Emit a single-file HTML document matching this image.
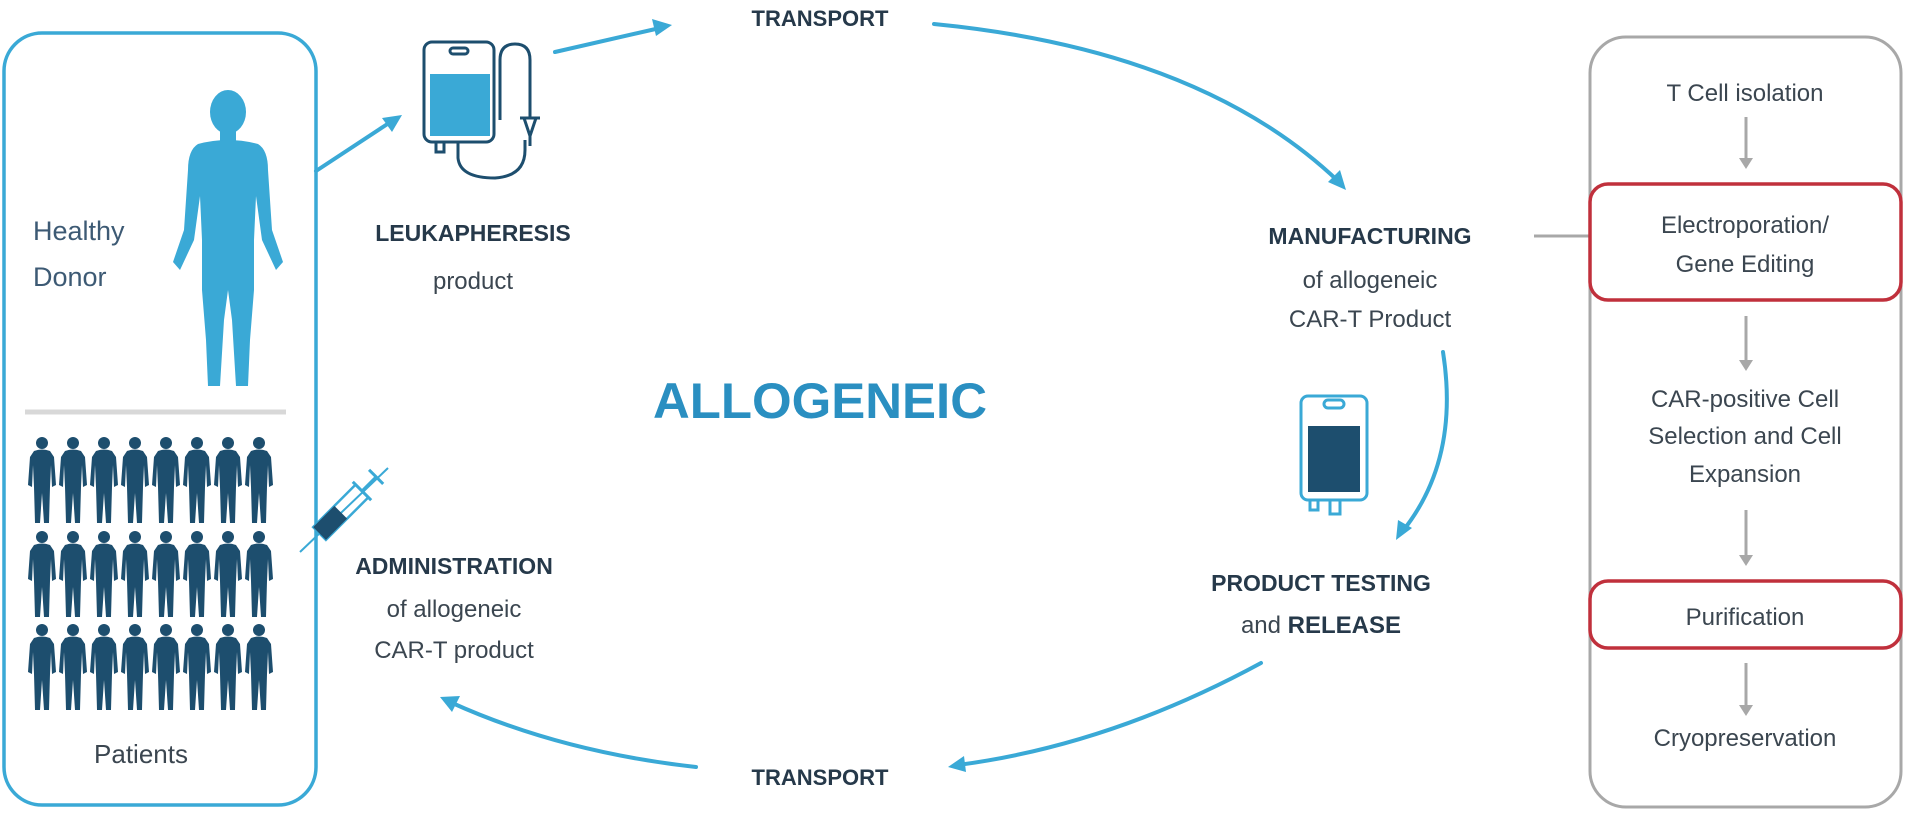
<!DOCTYPE html>
<html><head><meta charset="utf-8"><style>
html,body{margin:0;padding:0;background:#fff;}
svg{display:block;}
text{font-family:"Liberation Sans",sans-serif;}
</style></head><body>
<svg width="1907" height="813" viewBox="0 0 1907 813" xmlns="http://www.w3.org/2000/svg">
<defs>
<marker id="ah" markerWidth="10" markerHeight="10" refX="6" refY="5" orient="auto" markerUnits="userSpaceOnUse" viewBox="0 0 10 10">
</marker>
<g id="pat">
<circle cx="15" cy="8" r="6"/>
<path d="M7 16 Q15 13 23 16 L27 22 L29 50 L25 52 L24 30 L23 52 L22 88 L17 88 L15 58 L13 88 L8 88 L7 52 L6 30 L5 52 L1 50 L3 22 Z"/>
</g>
</defs>

<!-- left box -->
<rect x="4" y="33" width="312" height="772" rx="38" fill="none" stroke="#3aa9d6" stroke-width="3.5"/>
<text x="33" y="240" font-size="27" fill="#3d5a74">Healthy</text>
<text x="33" y="286" font-size="27" fill="#3d5a74">Donor</text>
<!-- donor figure -->
<g fill="#3aa9d6">
<ellipse cx="228" cy="112" rx="18" ry="22"/>
<rect x="220" y="128" width="16" height="16"/>
<path d="M198 144 Q228 136 258 144 Q268 150 268 170 L272 230 L283 262 L276 270 L262 240 L256 196 L254 240 L254 290 L250 340 L248 386 L236 386 L232 320 L228 290 L224 320 L220 386 L208 386 L206 340 L202 290 L202 240 L200 196 L194 240 L180 270 L173 262 L184 230 L188 170 Q188 150 198 144 Z"/>
</g>
<line x1="25" y1="412" x2="286" y2="412" stroke="#d8d8d8" stroke-width="5"/>
<!-- patients -->
<g fill="#1d4e6e">
<use href="#pat" x="27" y="435"/><use href="#pat" x="58" y="435"/><use href="#pat" x="89" y="435"/><use href="#pat" x="120" y="435"/><use href="#pat" x="151" y="435"/><use href="#pat" x="182" y="435"/><use href="#pat" x="213" y="435"/><use href="#pat" x="244" y="435"/>
<use href="#pat" x="27" y="529"/><use href="#pat" x="58" y="529"/><use href="#pat" x="89" y="529"/><use href="#pat" x="120" y="529"/><use href="#pat" x="151" y="529"/><use href="#pat" x="182" y="529"/><use href="#pat" x="213" y="529"/><use href="#pat" x="244" y="529"/>
<use href="#pat" x="27" y="622"/><use href="#pat" x="58" y="622"/><use href="#pat" x="89" y="622"/><use href="#pat" x="120" y="622"/><use href="#pat" x="151" y="622"/><use href="#pat" x="182" y="622"/><use href="#pat" x="213" y="622"/><use href="#pat" x="244" y="622"/>
</g>
<text x="141" y="763" font-size="26" fill="#3b4650" text-anchor="middle">Patients</text>

<!-- leukapheresis bag -->
<g fill="none" stroke="#1d4e6e" stroke-width="3">
<rect x="424" y="42" width="70" height="100" rx="8"/>
<rect x="450" y="48" width="18" height="6" rx="3"/>
<path d="M500 120 L500 60 Q500 44 515 44 Q530 44 530 60 L530 118"/>
<path d="M520 118 L540 118 M524 118 L530 136 L536 118 M530 136 L530 146"/>
<path d="M458 142 L458 158 Q460 178 495 178 Q525 176 525 150 L525 140"/>
<rect x="436" y="142" width="8" height="10"/>
</g>
<rect x="430" y="74" width="60" height="62" fill="#3aa9d6"/>
<!-- arrows -->
<g stroke="#3aa9d6" stroke-width="4" fill="none" stroke-linecap="round">
<line x1="316" y1="171" x2="392" y2="121"/>
<line x1="555" y1="52" x2="660" y2="28"/>
<path d="M934 24 Q1200 50 1338 181"/>
<path d="M1443 352 Q1460 460 1402 532"/>
<path d="M1261 663 Q1110 745 958 765"/>
<path d="M696 767 Q560 752 450 702"/>
</g>
<g fill="#3aa9d6">
<polygon points="402,115 382,118 392,132"/>
<polygon points="672,25 652,19 656,36"/>
<polygon points="1346,190 1340,170 1328,182"/>
<polygon points="1396,540 1398,520 1412,528"/>
<polygon points="948,767 964,756 966,772"/>
<polygon points="440,697 460,696 452,712"/>
</g>
<text x="820" y="26" font-size="22" font-weight="bold" fill="#26394a" text-anchor="middle">TRANSPORT</text>
<text x="473" y="241" font-size="23" font-weight="bold" fill="#26394a" text-anchor="middle">LEUKAPHERESIS</text>
<text x="473" y="289" font-size="24" fill="#3b4650" text-anchor="middle">product</text>

<text x="820" y="418" font-size="50" font-weight="bold" fill="#2a8fc1" text-anchor="middle" textLength="334" lengthAdjust="spacingAndGlyphs">ALLOGENEIC</text>

<!-- syringe -->
<line x1="300" y1="552" x2="388" y2="468" stroke="#3aa9d6" stroke-width="2"/>
<g transform="translate(345,508) rotate(-45)">
<rect x="-36" y="-9" width="60" height="18" fill="none" stroke="#3aa9d6" stroke-width="2.5"/>
<rect x="-36" y="-9" width="30" height="18" fill="#1d4e6e"/>
<line x1="24" y1="0" x2="44" y2="0" stroke="#3aa9d6" stroke-width="3"/>
<line x1="44" y1="-10" x2="44" y2="10" stroke="#3aa9d6" stroke-width="3"/>
<line x1="24" y1="-13" x2="24" y2="13" stroke="#3aa9d6" stroke-width="3"/>
</g>
<text x="454" y="574" font-size="23" font-weight="bold" fill="#26394a" text-anchor="middle">ADMINISTRATION</text>
<text x="454" y="617" font-size="24" fill="#3b4650" text-anchor="middle">of allogeneic</text>
<text x="454" y="658" font-size="24" fill="#3b4650" text-anchor="middle">CAR-T product</text>

<text x="1370" y="244" font-size="23" font-weight="bold" fill="#26394a" text-anchor="middle">MANUFACTURING</text>
<text x="1370" y="288" font-size="24" fill="#3b4650" text-anchor="middle">of allogeneic</text>
<text x="1370" y="327" font-size="24" fill="#3b4650" text-anchor="middle">CAR-T Product</text>

<!-- small bag -->
<g fill="none" stroke="#3aa9d6" stroke-width="3">
<rect x="1301" y="396" width="66" height="104" rx="7"/>
<rect x="1324" y="400" width="20" height="8" rx="4"/>
<rect x="1310" y="500" width="8" height="10"/>
<rect x="1330" y="500" width="10" height="14"/>
</g>
<rect x="1308" y="426" width="52" height="66" fill="#1d4e6e"/>

<text x="1321" y="591" font-size="23" font-weight="bold" fill="#26394a" text-anchor="middle">PRODUCT TESTING</text>
<text x="1321" y="633" font-size="24" fill="#3b4650" text-anchor="middle">and <tspan font-weight="bold" fill="#26394a">RELEASE</tspan></text>
<text x="820" y="785" font-size="22" font-weight="bold" fill="#26394a" text-anchor="middle">TRANSPORT</text>

<!-- right box -->
<line x1="1534" y1="236" x2="1590" y2="236" stroke="#a8a8a8" stroke-width="3"/>
<rect x="1590" y="37" width="311" height="770" rx="36" fill="none" stroke="#a8a8a8" stroke-width="3"/>
<rect x="1590" y="184" width="311" height="116" rx="18" fill="#fff" stroke="#c0303c" stroke-width="3.5"/>
<rect x="1590" y="581" width="311" height="67" rx="18" fill="#fff" stroke="#c0303c" stroke-width="3.5"/>
<g font-size="24" fill="#3b4650" text-anchor="middle">
<text x="1745" y="101">T Cell isolation</text>
<text x="1745" y="233">Electroporation/</text>
<text x="1745" y="272">Gene Editing</text>
<text x="1745" y="407">CAR-positive Cell</text>
<text x="1745" y="444">Selection and Cell</text>
<text x="1745" y="482">Expansion</text>
<text x="1745" y="625">Purification</text>
<text x="1745" y="746">Cryopreservation</text>
</g>
<g stroke="#a8a8a8" stroke-width="3">
<line x1="1746" y1="117" x2="1746" y2="160"/>
<line x1="1746" y1="316" x2="1746" y2="362"/>
<line x1="1746" y1="510" x2="1746" y2="557"/>
<line x1="1746" y1="663" x2="1746" y2="707"/>
</g>
<g fill="#a8a8a8">
<polygon points="1739,158 1753,158 1746,169"/>
<polygon points="1739,360 1753,360 1746,371"/>
<polygon points="1739,555 1753,555 1746,566"/>
<polygon points="1739,705 1753,705 1746,716"/>
</g>
</svg>
</body></html>
